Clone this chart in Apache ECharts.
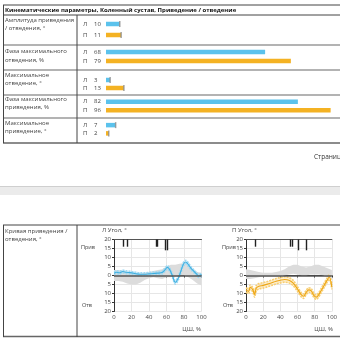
<!DOCTYPE html>
<html><head><meta charset="utf-8">
<script src="https://cdn.jsdelivr.net/npm/echarts@6/dist/echarts.min.js"></script>
<style>html,body{margin:0;padding:0;background:#fff}#c{width:340px;height:340px}</style>
</head><body><div id="c"></div>
<script>
// ---------- data ----------
const tableTitle = 'Кинематические параметры, Коленный сустав, Приведение / отведение';
const rowLabels = [
  ['Амплитуда приведения', '/ отведения, °'],
  ['Фаза максимального', 'отведения, %'],
  ['Максимальное', 'отведение, °'],
  ['Фаза максимального', 'приведения, %'],
  ['Максимальное', 'приведение, °']
];
const sides = ['Л', 'П'];
const rowValues = [[10, 11], [68, 79], [3, 13], [82, 96], [7, 2]];
const rowIsDegree = [true, false, true, false, true];
const pageText = 'Страница';
const curveLabel = ['Кривая приведения /', 'отведения, °'];
const leftTitle = 'Л Угол, °';
const rightTitle = 'П Угол, °';
const xName = 'ЦШ, %';
const upName = 'Прив';
const downName = 'Отв';

// normal corridor (gray), x in % gait cycle
const normX = [0,5,10,15,20,25,30,35,40,45,50,55,60,65,70,75,80,85,90,95,100];
const leftNormLow  = [-3,-3,-3.5,-4.5,-5,-5,-4,-2.5,-1.5,-1,-1.5,-2,-1,-1,-0.5,0,0,-1,-2.5,-4.5,-5.5];
const leftNormHigh = [3,3,2.5,2,1.5,1,1,1.5,2,2.5,3,3.5,5,6,6,6.5,7,5.5,3.5,2,1.5];
const rightNormLow  = [-2,-2,-1.5,-1,-0.5,-0.5,-0.5,-0.5,-0.5,0,0.5,1,0.5,0,0,0.5,0.5,0.5,0,-1,-2];
const rightNormHigh = [3.5,3,2.5,2,1.5,1.5,1.5,2,2.5,3.5,5,6,6,5,4.5,5,6,6,5,4,3];

// left (blue) curve
const leftX    = [0,3,6,10,14,18,22,26,30,35,40,45,50,55,58,61,64,67,70,73,76,79,82,85,88,91,94,97,100];
const leftMean = [1.3,1.8,1.5,2.2,1.8,1.6,1.3,0.9,0.7,0.7,0.9,1.1,1.3,1.6,3,4.5,3,-0.5,-3.8,-2,1.8,6,7.5,6,4,2.5,1,-0.3,0.6];
const leftSd   = [0.8,0.8,0.8,0.8,0.8,0.8,0.8,0.8,0.8,0.8,0.8,0.8,0.8,0.8,0.9,1,1,1,1,1,1,1,1,1,0.9,0.8,0.8,0.8,0.8];
// right (orange) curve
const rightX    = [0,3,5,8,10,12,15,20,25,30,35,40,45,50,55,60,64,67,70,73,76,79,82,85,88,91,94,97,100];
const rightMean = [-8,-8.8,-6.5,-8,-10.5,-7,-6,-5.5,-4.8,-4,-3.2,-2.6,-2.2,-2.6,-4.2,-7.5,-10.5,-11.5,-9.5,-8,-8.5,-11,-12,-10.5,-8,-5.5,-3,-0.8,-6.5];
const rightSd   = [1.2,1.2,1.2,1.2,1.5,1.5,1.5,1.5,1.5,1.5,1.5,1.5,1.5,1.5,1.5,1.3,1.2,1.2,1.2,1.2,1.2,1.2,1.2,1.2,1.2,1.2,1.2,1.2,1.2];

// gait events (x position, lower end of tick)
const leftEvents  = [[10,16],[15.5,16],[48,16],[49.5,16],[59,14],[60.5,14]];
const rightEvents = [[10.3,16],[52,16],[53.6,16],[61,14],[70,14]];

// ---------- styles / layout ----------
const FONT = 'Open Sans';
const FS = 6;
const BLUE = '#5bc2ec', ORANGE = '#f4b223';
const BLUE_L = '#9fd8f2', ORANGE_L = '#f8cf73';
const chart = echarts.init(document.getElementById('c'), null, {renderer: 'canvas'});

const rowGrids = [
  {top: 18.5, height: 22}, {top: 47.5, height: 18}, {top: 76, height: 16},
  {top: 97.5, height: 17}, {top: 121, height: 16.5}
];
const rowTextY = [[20, 28.5], [51.5, 60.5], [75, 83.5], [99, 107.5], [123, 131.5]];

const grid = [], xAxis = [], yAxis = [], series = [];
rowGrids.forEach((g, i) => {
  grid.push({left: 106, width: 238, top: g.top, height: g.height});
  xAxis.push({gridIndex: i, type: 'value', min: 0, max: rowIsDegree[i] ? 170 : 100, show: false});
  yAxis.push({gridIndex: i, type: 'category', data: sides, inverse: true,
    axisLine: {show: false}, axisTick: {show: false}, splitLine: {show: false},
    axisLabel: {interval: 0, hideOverlap: false, align: 'left', margin: 23, fontFamily: FONT, fontSize: FS, color: '#444',
      formatter: (v, idx) => '{s|' + v + '}{n|' + rowValues[i][idx] + '}',
      rich: {s: {width: 11, fontFamily: FONT, fontSize: FS, color: '#444'}, n: {fontFamily: FONT, fontSize: FS, color: '#444'}}}
  });
  series.push({type: 'bar', xAxisIndex: i, yAxisIndex: i, barWidth: 4.5, silent: true,
    data: rowValues[i].map((v, k) => ({value: v, itemStyle: {color: k === 0 ? BLUE : ORANGE}}))});
  if (rowIsDegree[i]) {
    series.push({type: 'scatter', xAxisIndex: i, yAxisIndex: i, symbol: 'rect', symbolSize: [1.5, 6], silent: true,
      itemStyle: {color: '#8c8c8c'}, data: rowValues[i].map((v, k) => [v, k])});
  }
});

function bandSeries(xi, yi, xs, low, high, fill, opacity, z) {
  return {type: 'custom', xAxisIndex: xi, yAxisIndex: yi, silent: true, z: z, clip: true,
    data: xs.map((x, k) => [x, low[k], high[k]]),
    renderItem: (params, api) => {
      if (params.dataIndex !== 0) return null;
      const up = xs.map((x, k) => api.coord([x, high[k]]));
      const dn = xs.map((x, k) => api.coord([x, low[k]])).reverse();
      return {type: 'polygon', shape: {points: up.concat(dn)}, style: {fill: fill, opacity: opacity}};
    }};
}

function lineChart(gi, left, normLow, normHigh, xs, mean, sd, events, col, colL) {
  grid.push({left: left, width: 87.5, top: 239.5, height: 72});
  const base = {gridIndex: gi};
  xAxis.push(Object.assign({}, base, {type: 'value', min: 0, max: 100, interval: 20,
    axisLine: {show: true, lineStyle: {color: '#333', width: 1}},
    axisTick: {show: true, length: 2, lineStyle: {color: '#333'}},
    axisLabel: {fontFamily: FONT, fontSize: 6, color: '#444', margin: 3},
    splitLine: {show: true, lineStyle: {color: '#e6e6e6', width: 1}}}));
  xAxis.push(Object.assign({}, base, {type: 'value', min: 0, max: 100, position: 'top',
    axisLine: {show: true, lineStyle: {color: '#555', width: 1}}, axisTick: {show: false},
    axisLabel: {show: false}, splitLine: {show: false}}));
  yAxis.push(Object.assign({}, base, {type: 'value', min: -20, max: 20, interval: 5,
    axisLine: {show: true, lineStyle: {color: '#333', width: 1}},
    axisTick: {show: true, length: 2, lineStyle: {color: '#333'}},
    axisLabel: {fontFamily: FONT, fontSize: 6, color: '#444', margin: 3, formatter: v => String(Math.abs(v))},
    splitLine: {show: true, lineStyle: {color: '#e6e6e6', width: 1}}}));
  const xi = xAxis.length - 2, yi = yAxis.length - 1;
  const lowE = xs.map((x, k) => mean[k] - sd[k]);
  const highE = xs.map((x, k) => mean[k] + sd[k]);
  series.push(bandSeries(xi, yi, normX, normLow, normHigh, '#dcdcdc', 1, 1));
  series.push(bandSeries(xi, yi, xs, lowE, highE, colL, 0.35, 2));
  const common = {type: 'line', xAxisIndex: xi, yAxisIndex: yi, symbol: 'none', silent: true, animation: false, z: 3};
  series.push(Object.assign({}, common, {smooth: 0.3, lineStyle: {color: colL, width: 1.6, type: [2, 1]},
    data: xs.map((x, k) => [x, highE[k]])}));
  series.push(Object.assign({}, common, {smooth: 0.3, lineStyle: {color: colL, width: 1.6, type: [2, 1]},
    data: xs.map((x, k) => [x, lowE[k]])}));
  series.push(Object.assign({}, common, {smooth: 0.3, z: 4, lineStyle: {color: col, width: 1.1},
    data: xs.map((x, k) => [x, mean[k]]),
    markLine: {silent: true, symbol: 'none', animation: false, label: {show: false},
      data: [
        [{coord: [0, 0], lineStyle: {color: '#555', width: 1.6, type: 'solid'}}, {coord: [100, 0]}]
      ].concat(events.map(e => [{coord: [e[0], 20], lineStyle: {color: '#222', width: 1.4, type: 'solid'}}, {coord: [e[0], e[1]]}]))
    }}));
}
lineChart(5, 114, leftNormLow, leftNormHigh, leftX, leftMean, leftSd, leftEvents, '#3db0e2', BLUE_L);
lineChart(6, 246, rightNormLow, rightNormHigh, rightX, rightMean, rightSd, rightEvents, '#eea614', ORANGE_L);

// ---------- table decorations ----------
const g = [];
function hline(x1, x2, y, color, w) { g.push({type: 'line', silent: true, shape: {x1, y1: y, x2, y2: y}, style: {stroke: color, lineWidth: w}}); }
function vline(x, y1, y2, color, w) { g.push({type: 'line', silent: true, shape: {x1: x, y1, x2: x, y2}, style: {stroke: color, lineWidth: w}}); }
function text(t, x, y, opt) { g.push({type: 'text', silent: true, x, y, style: Object.assign({text: t, fontFamily: FONT, fontSize: FS, fill: '#444', textVerticalAlign: 'middle'}, opt || {})}); }

hline(3, 340, 5, '#444', 1);
hline(3, 340, 15, '#444', 1);
[45, 70, 95, 118].forEach(y => hline(3, 340, y, '#9a9a9a', 1.6));
hline(3, 340, 143, '#666', 1.4);
vline(3.5, 5, 143, '#444', 1);
vline(77, 15, 143, '#444', 1);
text(tableTitle, 5, 10, {fontWeight: 'bold', fill: '#111'});
rowLabels.forEach((l, i) => { text(l[0], 5, rowTextY[i][0]); text(l[1], 5, rowTextY[i][1]); });
text(pageText, 314, 157, {fill: '#333', fontSize: 6.5});

g.push({type: 'rect', silent: true, shape: {x: 0, y: 186, width: 340, height: 9}, style: {fill: '#ebebeb'}});
hline(0, 340, 186.5, '#cfcfcf', 1);

hline(3, 340, 225, '#444', 1);
hline(3, 340, 336.5, '#666', 1.4);
vline(3.5, 225, 337, '#444', 1);
vline(77, 225, 337, '#444', 1);
text(curveLabel[0], 5, 231);
text(curveLabel[1], 5, 239);
text(leftTitle, 102, 230.5);
text(rightTitle, 232, 230.5);
text(upName, 81, 247, {fontSize: 5.5});
text(downName, 82, 305, {fontSize: 5.5});
text(upName, 222, 247, {fontSize: 5.5});
text(downName, 223, 305, {fontSize: 5.5});
text(xName, 201, 329, {fontSize: 6, textAlign: 'right'});
text(xName, 333, 329, {fontSize: 6, textAlign: 'right'});

chart.setOption({animation: false, grid, xAxis, yAxis, series, graphic: g});
</script></body></html>
